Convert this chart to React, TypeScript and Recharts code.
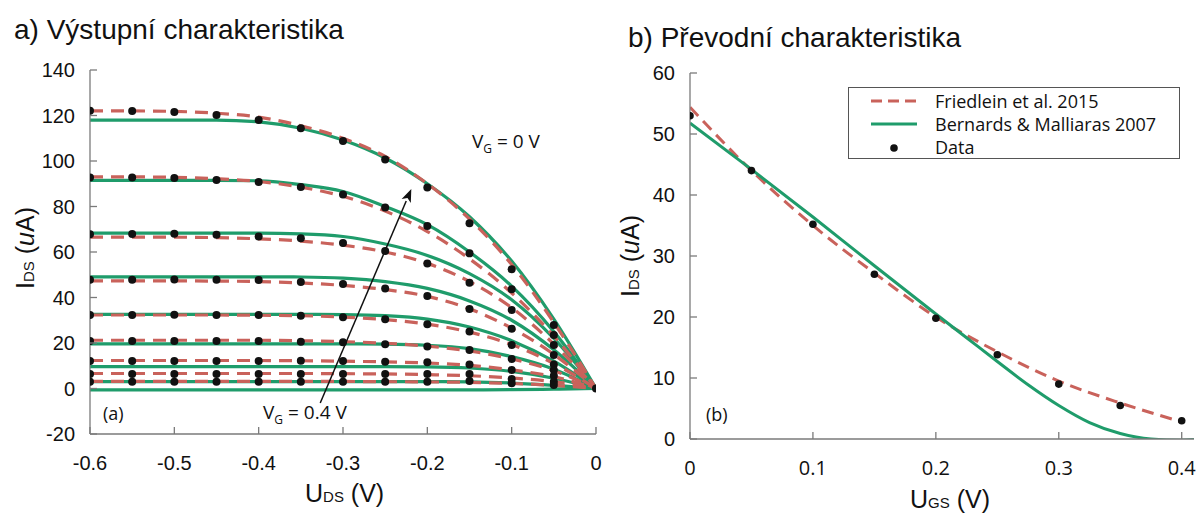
import React from 'react';
import { ComposedChart, Line, XAxis, YAxis, Legend, ReferenceLine } from 'recharts';

// ---- a) output characteristic: I_DS vs U_DS for V_G = 0 ... 0.4 V
const uds = [-0.6, -0.55, -0.5, -0.45, -0.4, -0.35, -0.3, -0.25, -0.2, -0.15, -0.1, -0.05, 0];
const vgSteps = ['0', '0.05', '0.1', '0.15', '0.2', '0.25', '0.3', '0.35', '0.4'];

// measured points
const dotsOut = [
  [122.1, 122.0, 121.5, 120.2, 118.0, 114.4, 108.8, 100.7, 88.3, 72.6, 52.4, 27.9, 0],
  [92.8, 92.7, 92.5, 91.6, 90.8, 88.6, 85.3, 79.6, 71.4, 59.4, 43.6, 23.5, null],
  [67.8, 67.9, 68.0, 67.6, 66.8, 66.0, 64.0, 60.4, 55.0, 46.5, 34.5, 19.1, null],
  [47.8, 47.8, 47.9, 47.8, 47.7, 46.8, 45.9, 44.0, 40.7, 34.9, 26.3, 14.7, null],
  [32.3, 32.3, 32.4, 32.3, 32.3, 32.0, 31.3, 30.4, 28.2, 25.1, 19.1, 10.6, null],
  [20.9, 20.9, 20.9, 20.9, 20.9, 20.6, 20.3, 19.4, 18.5, 16.9, 13.0, 8.1, null],
  [12.1, 12.1, 12.1, 12.1, 12.1, 12.2, 12.1, 11.8, 11.5, 10.6, 8.1, 5.6, null],
  [6.4, 6.4, 6.4, 6.4, 6.4, 6.4, 6.4, 6.4, 6.4, 6.4, 4.2, 3.0, null],
  [3.0, 3.0, 3.0, 3.0, 3.0, 3.0, 3.0, 3.0, 3.0, 3.3, 2.3, 1.5, null],
];

// Friedlein et al. 2015 fit
const friedleinOut = [
  [122, 122, 121.8, 121, 119.3, 115.5, 110, 102, 90, 74.5, 54.5, 29, 0],
  [93, 93, 92.8, 92.2, 91, 88.5, 84.5, 78, 69, 57, 42, 23, 0],
  [66.5, 66.5, 66.5, 66.3, 65.8, 64.8, 63, 60, 55, 47, 35.5, 19.5, 0],
  [47.3, 47.3, 47.3, 47.2, 47, 46.4, 45.3, 43.5, 40.5, 35, 26.5, 15, 0],
  [32.3, 32.3, 32.3, 32.3, 32.2, 32, 31.4, 30.3, 28.3, 24.8, 19.3, 11, 0],
  [21.2, 21.2, 21.2, 21.2, 21.2, 21, 20.6, 19.9, 18.6, 16.5, 13, 7.8, 0],
  [12.3, 12.3, 12.3, 12.3, 12.3, 12.2, 12, 11.7, 11.2, 10.2, 8.2, 5.2, 0],
  [6.6, 6.6, 6.6, 6.6, 6.6, 6.6, 6.5, 6.4, 6.1, 5.6, 4.6, 3, 0],
  [3.1, 3.1, 3.1, 3.1, 3.1, 3.1, 3.1, 3, 2.9, 2.7, 2.2, 1.4, 0],
];

// Bernards & Malliaras 2007 fit
const bernardsOut = [
  [118, 118, 118, 118, 117.2, 114.4, 109.2, 101.3, 90, 75.5, 56, 30.5, 0],
  [91.5, 91.5, 91.5, 91.5, 91.3, 89.6, 86.6, 80, 72, 60, 45, 25, 0],
  [68.3, 68.3, 68.3, 68.3, 68.3, 68, 66.8, 63.5, 58.5, 50.5, 39, 22, 0],
  [49.1, 49.1, 49.1, 49.1, 49.1, 49, 48.5, 47, 44, 38.5, 30, 17, 0],
  [32.6, 32.6, 32.6, 32.6, 32.6, 32.6, 32.5, 32, 30.5, 27, 21, 12, 0],
  [19.6, 19.6, 19.6, 19.6, 19.6, 19.6, 19.6, 19.5, 19, 17.5, 14, 8.5, 0],
  [9.6, 9.6, 9.6, 9.6, 9.6, 9.6, 9.6, 9.6, 9.5, 9, 7.5, 4.5, 0],
  [3.0, 3.0, 3.0, 3.0, 3.0, 3.0, 3.0, 3.0, 3.0, 2.9, 2.4, 1.4, 0],
  [-0.6, -0.6, -0.6, -0.6, -0.6, -0.6, -0.6, -0.6, -0.6, -0.6, -0.5, -0.3, 0],
];

const udsTicks = [-0.6, -0.5, -0.4, -0.3, -0.2, -0.1, 0];
const idsOutTicks = [-20, 0, 20, 40, 60, 80, 100, 120, 140];
// arrow from V_G = 0.4 V towards V_G = 0 V (data coords)
const arrowOut = [{ x: -0.327, y: -6.4 }, { x: -0.219, y: 87.7 }];

// ---- b) transfer characteristic: I_DS vs U_GS
const ugs = [0, 0.05, 0.1, 0.15, 0.2, 0.225, 0.25, 0.275, 0.3, 0.325, 0.35, 0.375, 0.4, 0.41];
const dataTr = [53, 44, 35.2, 27, 19.8, null, 13.8, null, 9, null, 5.5, null, 3, null];
const friedleinTr = [54.4, 44, 35, 27.2, 20, null, 14.3, null, 9.5, null, 5.9, null, 2.8, null];
const bernardsTr = [51.8, 44.2, 36.4, 28.4, 20.5, 16.6, 12.7, 8.9, 5.5, 2.7, 0.9, 0, -0.2, -0.1];
const ugsTicks = [0, 0.1, 0.2, 0.3, 0.4];
const idsTrTicks = [0, 10, 20, 30, 40, 50, 60];

const GREEN = '#1f9c6b';
const RED = '#c9625b';
const FRAME = '#7a7a7a';
const ARIAL = '"Liberation Sans", Arial, sans-serif';
const MYRIAD = '"Open Sans", "Noto Sans", sans-serif';

const outRows = uds.map((x, i) => {
  const row: Record<string, number | null> = { x };
  vgSteps.forEach((_, k) => {
    row['g' + k] = bernardsOut[k][i];
    row['r' + k] = friedleinOut[k][i];
    row['d' + k] = dotsOut[k][i];
  });
  return row;
});

const trRows = ugs.map((x, i) => ({ x, d: dataTr[i], r: friedleinTr[i], g: bernardsTr[i] }));

const fmt = (v: number) => String(Math.round(v * 100) / 100);

function BottomTick(props: any) {
  const { x, y, payload, font } = props;
  return (
    <g>
      <line x1={x} y1={y} x2={x} y2={y - 7} stroke={FRAME} strokeWidth={1.3} />
      <text x={x} y={y + 29} dy="0.35em" textAnchor="middle" fontFamily={font} fontSize={20} fill="#111">
        {fmt(payload.value)}
      </text>
    </g>
  );
}

function LeftTick(props: any) {
  const { x, y, payload } = props;
  return (
    <g>
      <line x1={x} y1={y} x2={x + 7} y2={y} stroke={FRAME} strokeWidth={1.3} />
      <text x={x - 15} y={y} dy="0.35em" textAnchor="end" fontFamily={ARIAL} fontSize={20} fill="#111">
        {fmt(payload.value)}
      </text>
    </g>
  );
}

function TopTick(props: any) {
  const { x, y } = props;
  return <line x1={x} y1={y} x2={x} y2={y + 7} stroke={FRAME} strokeWidth={1.3} />;
}

function RightTick(props: any) {
  const { x, y } = props;
  return <line x1={x - 7} y1={y} x2={x} y2={y} stroke={FRAME} strokeWidth={1.3} />;
}

function ArrowShape(props: any) {
  const { x1, y1, x2, y2 } = props;
  const a = Math.atan2(y2 - y1, x2 - x1);
  const L = 13;
  const W = 5;
  const bx = x2 - L * Math.cos(a);
  const by = y2 - L * Math.sin(a);
  const px = -Math.sin(a) * W;
  const py = Math.cos(a) * W;
  return (
    <g>
      <line x1={x1} y1={y1} x2={bx} y2={by} stroke="#111" strokeWidth={1.5} />
      <polygon points={`${x2},${y2} ${bx + px},${by + py} ${bx + L * 0.25 * Math.cos(a)},${by + L * 0.25 * Math.sin(a)} ${bx - px},${by - py}`} fill="#111" />
    </g>
  );
}

function Frame({ xTicks, yTicks, xDomain, yDomain, xFont }: any) {
  return [
    <XAxis key="xb" xAxisId={0} dataKey="x" type="number" domain={xDomain} ticks={xTicks} allowDataOverflow
      height={40} tickSize={0} tickMargin={0} axisLine={{ stroke: FRAME, strokeWidth: 1.3 }}
      tick={<BottomTick font={xFont} />} interval={0} />,
    <XAxis key="xt" xAxisId="top" orientation="top" dataKey="x" type="number" domain={xDomain} ticks={xTicks}
      allowDataOverflow height={0} tickSize={0} tickMargin={0} axisLine={{ stroke: FRAME, strokeWidth: 1.3 }}
      tick={<TopTick />} interval={0} />,
    <YAxis key="yl" yAxisId={0} type="number" domain={yDomain} ticks={yTicks} allowDataOverflow width={60}
      tickSize={0} tickMargin={0} axisLine={{ stroke: FRAME, strokeWidth: 1.3 }} tick={<LeftTick />} interval={0} />,
    <YAxis key="yr" yAxisId="right" orientation="right" type="number" domain={yDomain} ticks={yTicks}
      allowDataOverflow width={0} tickSize={0} tickMargin={0} axisLine={{ stroke: FRAME, strokeWidth: 1.3 }}
      tick={<RightTick />} interval={0} />,
  ];
}

function TrLegend() {
  const rows = [
    { name: 'Friedlein et al. 2015', kind: 'dash' },
    { name: 'Bernards & Malliaras 2007', kind: 'line' },
    { name: 'Data', kind: 'dot' },
  ];
  return (
    <div style={{ border: '1.5px solid #555', background: '#fff', width: 332, height: 72, boxSizing: 'border-box', paddingTop: 1 }}>
      {rows.map((r) => (
        <div key={r.name} style={{ display: 'flex', alignItems: 'center', height: 23 }}>
          <svg width={86} height={20} style={{ flex: 'none' }}>
            {r.kind === 'dash' && <line x1={22} y1={10} x2={68} y2={10} stroke={RED} strokeWidth={3} strokeDasharray="11 6" />}
            {r.kind === 'line' && <line x1={22} y1={10} x2={68} y2={10} stroke={GREEN} strokeWidth={3} />}
            {r.kind === 'dot' && <circle cx={45} cy={11} r={3.8} fill="#111" />}
          </svg>
          <span style={{ fontFamily: MYRIAD, fontSize: 18, lineHeight: 1, color: '#111', whiteSpace: 'nowrap' }}>{r.name}</span>
        </div>
      ))}
    </div>
  );
}

const abs = (left: number, top: number, extra: React.CSSProperties = {}): React.CSSProperties => ({
  position: 'absolute', left, top, whiteSpace: 'nowrap', lineHeight: 1, color: '#111', ...extra,
});

function Sub({ big, small, rest, size = 25 }: { big: string; small: string; rest: React.ReactNode; size?: number }) {
  return (
    <span style={{ fontFamily: ARIAL, fontSize: size }}>
      {big}
      <span style={{ fontSize: size * 0.6 }}>{small}</span>
      {rest}
    </span>
  );
}

export default function App() {
  return (
    <div style={{ position: 'absolute', left: 0, top: 0, width: 1197, height: 519, background: '#fff', overflow: 'hidden' }}>
      <div style={abs(14, 16, { fontFamily: ARIAL, fontSize: 28 })}>a) Výstupní charakteristika</div>
      <div style={abs(628, 24, { fontFamily: ARIAL, fontSize: 28 })}>b) Převodní charakteristika</div>

      <div style={abs(0, 0)}>
        <ComposedChart width={620} height={519} data={outRows} margin={{ top: 70, right: 24, left: 30, bottom: 45 }}>
          {Frame({ xTicks: udsTicks, yTicks: idsOutTicks, xDomain: [-0.6, 0], yDomain: [-20, 140], xFont: ARIAL })}
          {vgSteps.map((_, k) => (
            <Line key={'g' + k} dataKey={'g' + k} type="monotone" stroke={GREEN} strokeWidth={3.2} dot={false} isAnimationActive={false} />
          ))}
          {vgSteps.map((_, k) => (
            <Line key={'r' + k} dataKey={'r' + k} type="monotone" stroke={RED} strokeWidth={3.2} strokeDasharray="13 8" dot={false} isAnimationActive={false} />
          ))}
          {vgSteps.map((_, k) => (
            <Line key={'d' + k} dataKey={'d' + k} stroke="none" dot={{ r: 4, fill: '#111', stroke: 'none' }} activeDot={false} isAnimationActive={false} />
          ))}
          <ReferenceLine segment={arrowOut} shape={<ArrowShape />} ifOverflow="visible" />
        </ComposedChart>
      </div>

      <div style={abs(600, 0)}>
        <ComposedChart width={597} height={519} data={trRows} margin={{ top: 73, right: 3, left: 30, bottom: 40 }}>
          {Frame({ xTicks: ugsTicks, yTicks: idsTrTicks, xDomain: [0, 0.41], yDomain: [0, 60], xFont: MYRIAD })}
          <Line dataKey="r" name="Friedlein et al. 2015" type="monotone" stroke={RED} strokeWidth={3} strokeDasharray="12 7" dot={false} connectNulls isAnimationActive={false} />
          <Line dataKey="g" name="Bernards & Malliaras 2007" type="monotone" stroke={GREEN} strokeWidth={3} dot={false} isAnimationActive={false} />
          <Line dataKey="d" name="Data" stroke="none" dot={{ r: 3.8, fill: '#111', stroke: 'none' }} activeDot={false} isAnimationActive={false} />
          <Legend layout="vertical" align="center" verticalAlign="middle" content={<TrLegend />}
            wrapperStyle={{ position: 'absolute', left: 248, top: 87, width: 332, height: 72 }} />
        </ComposedChart>
      </div>

      {/* annotations */}
      <div style={abs(472, 132, { fontFamily: MYRIAD, fontSize: 19 })}>
        V<span style={{ fontSize: 12, position: 'relative', top: 5 }}>G</span> = 0 V
      </div>
      <div style={abs(263, 403, { fontFamily: MYRIAD, fontSize: 19 })}>
        V<span style={{ fontSize: 12, position: 'relative', top: 5 }}>G</span> = 0.4 V
      </div>
      <div style={abs(103, 404, { fontFamily: MYRIAD, fontSize: 18 })}>(a)</div>
      <div style={abs(706, 405, { fontFamily: MYRIAD, fontSize: 18 })}>(b)</div>

      {/* axis titles */}
      <div style={abs(305, 481)}>
        <Sub big="U" small="DS" rest=" (V)" />
      </div>
      <div style={abs(910, 487)}>
        <Sub big="U" small="GS" rest=" (V)" />
      </div>
      <div style={abs(25, 248, { transform: 'translate(-50%, -50%) rotate(-90deg)' })}>
        <Sub big="I" small="DS" rest={<> (<i>u</i>A)</>} />
      </div>
      <div style={abs(630, 256, { transform: 'translate(-50%, -50%) rotate(-90deg)' })}>
        <Sub big="I" small="DS" rest={<> (<i>u</i>A)</>} />
      </div>
    </div>
  );
}
